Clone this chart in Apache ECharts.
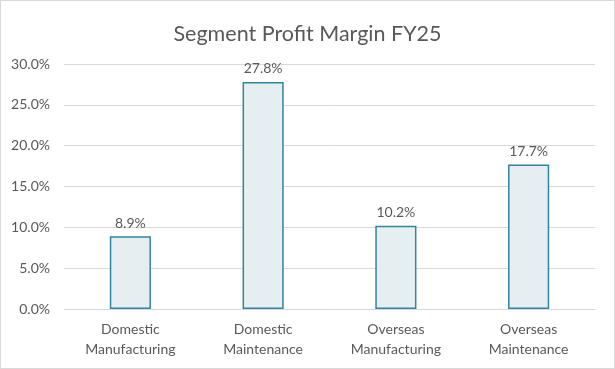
<!DOCTYPE html>
<html>
<head>
<meta charset="utf-8">
<script src="https://cdn.jsdelivr.net/npm/echarts@6/dist/echarts.min.js"></script>
<style>
html,body{margin:0;padding:0;background:#fff;}
#c{width:615px;height:369px;box-sizing:border-box;border:1px solid #d9d9d9;}
</style>
</head>
<body>
<div id="c"></div>
<script>
const categories = ["Domestic\nManufacturing", "Domestic\nMaintenance", "Overseas\nManufacturing", "Overseas\nMaintenance"];
const margins = [8.9, 27.8, 10.2, 17.7];
const yTicks = { min: 0, max: 30, interval: 5 };

const chart = echarts.init(document.getElementById('c'), null, { renderer: 'canvas' });
chart.setOption({
  animation: false,
  backgroundColor: '#fff',
  title: {
    text: 'Segment Profit Margin FY25',
    left: 'center',
    top: 17,
    textStyle: { fontFamily: 'Lato', fontSize: 21.5, fontWeight: 'normal', color: '#595959' }
  },
  grid: { left: 63, right: 19, top: 63, bottom: 59, containLabel: false },
  xAxis: {
    type: 'category',
    data: categories,
    axisLine: { show: true, lineStyle: { color: '#d9d9d9', width: 1 } },
    axisTick: { show: false },
    axisLabel: { fontFamily: 'Lato', fontSize: 14, color: '#595959', lineHeight: 20, margin: 10 }
  },
  yAxis: {
    type: 'value',
    min: yTicks.min, max: yTicks.max, interval: yTicks.interval,
    axisLine: { show: false },
    axisTick: { show: false },
    splitLine: { lineStyle: { color: '#d9d9d9', width: 1 } },
    axisLabel: {
      fontFamily: 'Lato', fontSize: 14, color: '#595959', margin: 14,
      formatter: v => v.toFixed(1) + '%'
    }
  },
  series: [{
    type: 'bar',
    data: margins,
    barWidth: '31%',
    itemStyle: { color: '#e5eff2', borderColor: '#31859c', borderWidth: 1.5 },
    label: {
      show: true, position: 'top', distance: 6,
      fontFamily: 'Lato', fontSize: 14, color: '#595959',
      formatter: p => p.value.toFixed(1) + '%'
    }
  }]
});
</script>
</body>
</html>
